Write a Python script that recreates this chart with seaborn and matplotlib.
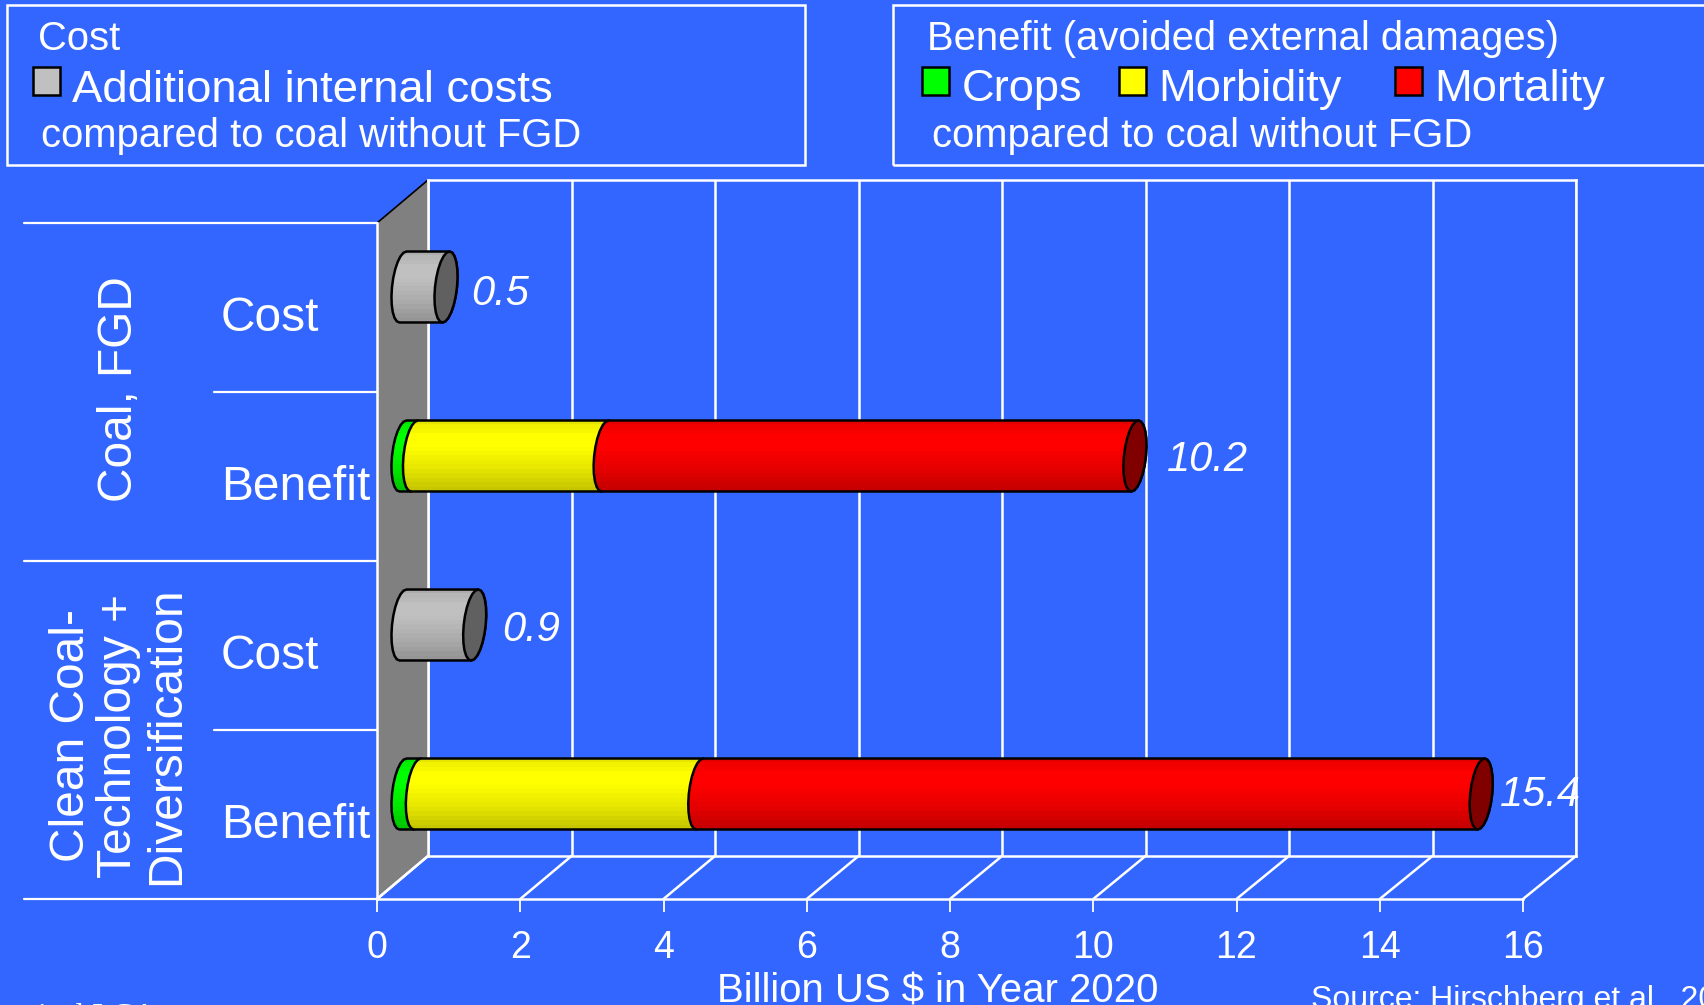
import matplotlib
matplotlib.use("Agg")

import matplotlib.pyplot as plt
import numpy as np
import pandas as pd
import seaborn as sns
from matplotlib.patches import ConnectionPatch, PathPatch, Polygon, Rectangle
from matplotlib.path import Path
from matplotlib.transforms import offset_copy

W, H = 1704, 1005
BG = "#3366FF"

ROWS = ["Coal, FGD / Cost", "Coal, FGD / Benefit", "Clean Coal / Cost", "Clean Coal / Benefit"]
ROW_LABELS = ["Cost", "Benefit", "Cost", "Benefit"]
COST = [0.6, 0, 1.0, 0]
CROPS = [0, 0.16, 0, 0.2]
MORBIDITY = [0, 2.66, 0, 3.94]
MORTALITY = [0, 7.39, 0, 10.9]
VALUE_LABELS = ["0.5", "10.2", "0.9", "15.4"]
LABEL_SHIFT = [25, 32, 28, 19]  # px from the end of the bar
LABEL_DROP = [7, 4, 5, 1]
XTICKS = [0, 2, 4, 6, 8, 10, 12, 14, 16]

# banding of the cylinders, top to bottom
SHADE = [0.90, 0.95, 0.97, 1.0, 1.0, 1.0, 0.99, 0.97, 0.95, 0.93, 0.91, 0.89, 0.86, 0.83, 0.80, 0.78]

sns.set_style("white", {"axes.facecolor": "none", "figure.facecolor": BG})
plt.rcParams["font.family"] = ["Liberation Sans", "DejaVu Sans"]


def box(x0, y0, x1, y1):
    """pixel box (y from the top) -> fig.add_axes rectangle"""
    return [x0 / W, 1 - y1 / H, (x1 - x0) / W, (y1 - y0) / H]


def fx(x):
    return x / W


def fy(y):
    return 1 - y / H


fig = plt.figure(figsize=(W / 100, H / 100), dpi=100, facecolor=BG)

# back wall, front plane and the plane the bars stand in
ax_back = fig.add_axes(box(428, 180, 1576, 856), zorder=1)
ax_front = fig.add_axes(box(377, 223, 1523, 899), zorder=2)
ax_bar = fig.add_axes(box(403, 202.5, 1550, 878.5), zorder=3)

for ax in (ax_back, ax_front, ax_bar):
    ax.set_xlim(0, 16)
    ax.set_ylim(3.5, -0.5)

ax_back.set_xticks(XTICKS)
ax_back.set_yticks([])
ax_back.tick_params(length=0, labelbottom=False)
ax_back.grid(axis="x", color="white", linewidth=1.8)
for s in ax_back.spines.values():
    s.set_color("white")
    s.set_linewidth(1.8)

# grey side wall
fig.add_artist(Polygon([(fx(377), fy(223)), (fx(428), fy(180)), (fx(428), fy(856)), (fx(377), fy(899))],
                       closed=True, facecolor="#808080", edgecolor="none", transform=fig.transFigure, zorder=0.5))
fig.add_artist(plt.Line2D([fx(377), fx(428)], [fy(223), fy(180)], color="black", linewidth=1.2, zorder=0.6))
fig.add_artist(plt.Line2D([fx(377), fx(428)], [fy(899), fy(856)], color="white", linewidth=1.8, zorder=0.6))

# floor lines
for v in XTICKS:
    ax_front.add_artist(ConnectionPatch((v, 3.5), (v, 3.5), coordsA=ax_front.transData, coordsB=ax_back.transData,
                                        color="white", linewidth=1.8))

ax_front.set_xticks(XTICKS)
ax_front.set_xticklabels([str(v) for v in XTICKS], fontsize=27, color="white")
ax_front.tick_params(axis="x", length=9.4, width=1.3, color="white", pad=13, bottom=True)
ax_front.set_xlabel("Billion US $ in Year 2020", fontsize=28.9, color="white", labelpad=0)
ax_front.xaxis.set_label_coords(0.489, -0.109)
ax_front.set_yticks([0, 1, 2, 3])
ax_front.set_yticklabels(ROW_LABELS, fontsize=34.5, color="white")
ax_front.tick_params(axis="y", length=0, pad=0)
for lab in ax_front.get_yticklabels():
    lab.set_ha("left")
    lab.set_transform(offset_copy(ax_front.get_yaxis_transform(which="tick1"), fig=fig,
                                  x=-156, y=-6, units="dots"))
for name in ("top", "right"):
    ax_front.spines[name].set_visible(False)
for name in ("left", "bottom"):
    ax_front.spines[name].set_color("white")
    ax_front.spines[name].set_linewidth(1.8)

# row separators on the left
ytrans = ax_front.get_yaxis_transform()
for y, x0 in [(-0.5, 24), (0.5, 214), (1.5, 24), (2.5, 214), (3.5, 24)]:
    ax_front.plot([(x0 - 377) / 1146, 0], [y, y], color="white", linewidth=1.6,
                  transform=ytrans, clip_on=False)

# bars: cumulative widths through seaborn, then reshaped to cylinders
cum_crops = np.array(CROPS)
cum_morb = cum_crops + np.array(MORBIDITY)
cum_mort = cum_morb + np.array(MORTALITY)
series = [("#C0C0C0", np.array(COST), np.zeros(4)),
          ("#00FF00", cum_crops, np.zeros(4)),
          ("#FFFF00", cum_morb, cum_crops),
          ("#FF0000", cum_mort, cum_morb)]

A = 11 / 71.7     # half width of the end ellipse, x units
SK = 3.5 / 71.7   # slant of the ellipse
T = np.linspace(0, np.pi, 13)


def cyl_path(x0, x1, yc, hh):
    left = [(x0 - A * np.sin(t) + SK * np.cos(t), yc - hh * np.cos(t)) for t in T]
    right = [(x1 + A * np.sin(t) - SK * np.cos(t), yc + hh * np.cos(t)) for t in T]
    pts = left + right + [left[0]]
    return Path(pts, closed=True)


z = 4
for color, ends, starts in series:
    n0 = len(ax_bar.patches)
    df = pd.DataFrame({"row": ROWS, "end": ends})
    sns.barplot(data=df, y="row", x="end", order=ROWS, color=color, saturation=1, width=0.42,
                errorbar=None, orient="h", ax=ax_bar, zorder=z)
    base = np.array(matplotlib.colors.to_rgb(color))
    rgb = np.array(SHADE)[:, None, None] * base[None, None, :]
    for patch, start in zip(ax_bar.patches[n0:], starts):
        x1 = patch.get_x() + patch.get_width()
        if x1 <= start:
            patch.set_visible(False)
            continue
        yc = patch.get_y() + patch.get_height() / 2
        hh = patch.get_height() / 2
        outline = PathPatch(cyl_path(start, x1, yc, hh), facecolor="none", edgecolor="black",
                            linewidth=1.8, zorder=z + 0.2, transform=ax_bar.transData, clip_on=False)
        ax_bar.add_artist(outline)
        patch.set_edgecolor("none")
        patch.set_clip_path(outline)
        im = ax_bar.imshow(rgb, extent=(start - 2 * A, x1 + 2 * A, yc + hh, yc - hh), aspect="auto",
                           interpolation="nearest", zorder=z + 0.1)
        im.set_clip_box(fig.bbox)  # the bulge at zero lies left of the axes
        im.set_clip_path(outline)
    z += 1

# end caps and value labels
totals = np.maximum(np.array(COST), cum_mort)
cap_colors = ["#606060", "#800000", "#606060", "#800000"]
for i, (total, cap) in enumerate(zip(totals, cap_colors)):
    hh = 0.21
    t = np.linspace(0, 2 * np.pi, 25)
    pts = np.column_stack([total + A * np.sin(t) + SK * np.cos(t), i - hh * np.cos(t)])
    ax_bar.add_patch(Polygon(pts, closed=True, facecolor=cap, edgecolor="black", linewidth=1.8,
                             zorder=z, clip_on=False))
    lab_trans = offset_copy(ax_bar.transData, fig=fig, x=LABEL_SHIFT[i], y=-LABEL_DROP[i], units="dots")
    ax_bar.text(total, i, VALUE_LABELS[i], transform=lab_trans, fontsize=30, style="italic",
                color="white", ha="left", va="center", zorder=z + 1)

ax_bar.set_xlim(0, 16)
ax_bar.set_ylim(3.5, -0.5)
ax_bar.set_axis_off()


def ftext(x, y, s, size, **kw):
    fig.text(fx(x), fy(y), s, fontsize=size, color="white", va="center", **kw)


# group labels
ftext(120, 389, "Coal, FGD", 34.5, rotation=90, ha="center")
ftext(119, 736, "Clean Coal-\nTechnology +\nDiversification", 34.5, rotation=90, ha="center",
      ma="center", linespacing=1.07)

# legend boxes
for x0, x1 in [(7, 805), (893, 1720)]:
    fig.add_artist(Rectangle((fx(x0), fy(165)), fx(x1 - x0), 160 / H, facecolor="none", edgecolor="white",
                             linewidth=1.8, transform=fig.transFigure))
for x0, c in [(33, "#C0C0C0"), (922, "#00FF00"), (1119, "#FFFF00"), (1395, "#FF0000")]:
    fig.add_artist(Rectangle((fx(x0), fy(95)), 27 / W, 28 / H, facecolor=c, edgecolor="black",
                             linewidth=1.8, transform=fig.transFigure))
ftext(38, 39, "Cost", 28.8)
ftext(72, 90, "Additional internal costs", 32.75)
ftext(41, 136, "compared to coal without FGD", 28.8)
ftext(927, 39, "Benefit (avoided external damages)", 28.8)
ftext(962, 90, "Crops", 32.6)
ftext(1158, 90, "Morbidity", 32.6)
ftext(1434, 90, "Mortality", 32.6)
ftext(932, 136, "compared to coal without FGD", 28.8)

# both of these are cut off by the edge of the slide
ftext(1311, 1000, "Source: Hirschberg et al., 2003", 23)
fig.text(fx(38), fy(1025), "ical LCA", fontsize=23, color="white", family="Liberation Serif", va="baseline")

fig.savefig("out.png", dpi=100, facecolor=BG)
